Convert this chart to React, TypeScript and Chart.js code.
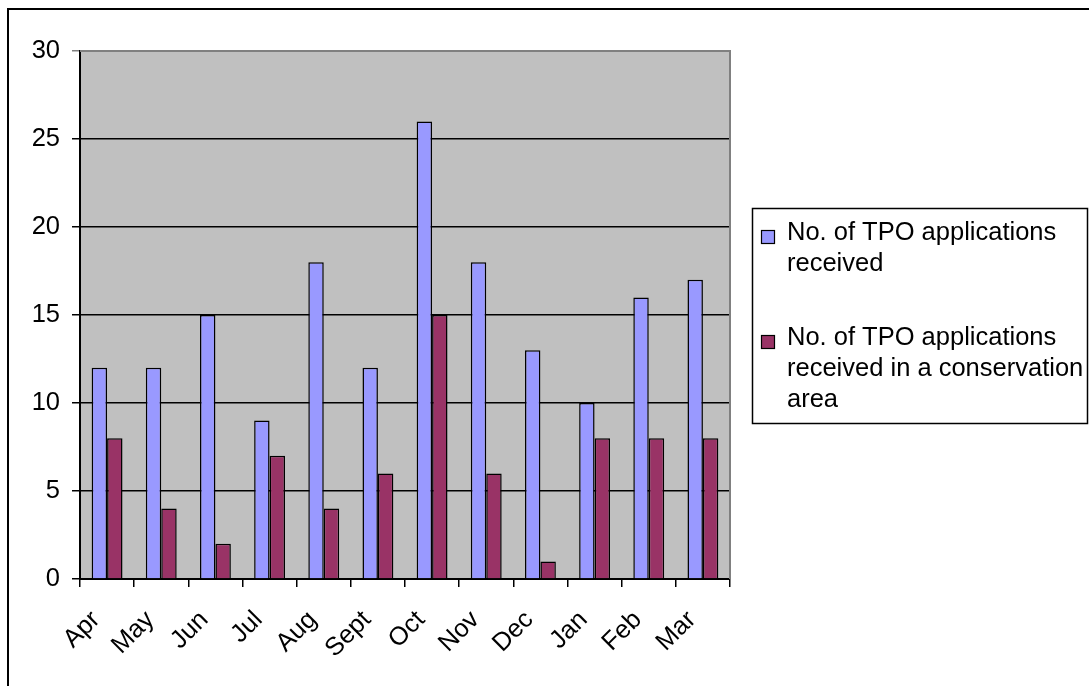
import React, { useEffect, useRef } from "react";
import { Chart, registerables } from "chart.js";

Chart.register(...registerables);

const categories = ["Apr", "May", "Jun", "Jul", "Aug", "Sept", "Oct", "Nov", "Dec", "Jan", "Feb", "Mar"];
const tpoReceived = [12, 12, 15, 9, 18, 12, 26, 18, 13, 10, 16, 17];
const tpoConservation = [8, 4, 2, 7, 4, 6, 15, 6, 1, 8, 8, 8];
const seriesLabels = [
  "No. of TPO applications received",
  "No. of TPO applications received in a conservation area",
];
const seriesColors = ["#9999FF", "#993366"];
const yMin = 0;
const yMax = 30;
const yStep = 5;

const FONT = '"Liberation Sans", Arial, Helvetica, sans-serif';

function wrapText(ctx: CanvasRenderingContext2D, text: string, maxWidth: number): string[] {
  const words = text.split(" ");
  const lines: string[] = [];
  let cur = "";
  for (const w of words) {
    const test = cur ? cur + " " + w : w;
    if (ctx.measureText(test).width > maxWidth && cur) {
      lines.push(cur);
      cur = w;
    } else {
      cur = test;
    }
  }
  if (cur) lines.push(cur);
  return lines;
}

const framePlugin = {
  id: "framePlugin",
  beforeDraw(chart: any) {
    const { ctx, chartArea } = chart;
    ctx.save();
    ctx.fillStyle = "#FFFFFF";
    ctx.fillRect(0, 0, chart.width, chart.height);
    ctx.fillStyle = "#C0C0C0";
    ctx.fillRect(chartArea.left, chartArea.top, chartArea.right - chartArea.left, chartArea.bottom - chartArea.top);
    ctx.restore();
  },
  afterDraw(chart: any) {
    const { ctx, chartArea } = chart;
    ctx.save();
    // plot area top/right border (gray)
    ctx.strokeStyle = "#808080";
    ctx.lineWidth = 2;
    ctx.beginPath();
    ctx.moveTo(chartArea.left, chartArea.top);
    ctx.lineTo(chartArea.right, chartArea.top);
    ctx.lineTo(chartArea.right, chartArea.bottom);
    ctx.stroke();
    // outer frame
    ctx.strokeStyle = "#000000";
    ctx.lineWidth = 2;
    ctx.strokeRect(8, 9, 1300, 1000);
    // legend box
    ctx.lineWidth = 1.5;
    ctx.strokeRect(752.5, 208.5, 335, 215);
    ctx.font = "25.5px " + FONT;
    ctx.textBaseline = "alphabetic";
    ctx.textAlign = "left";
    const baselines = [240, 345];
    chart.data.datasets.forEach((ds: any, i: number) => {
      const b = baselines[i];
      ctx.fillStyle = ds.backgroundColor;
      ctx.fillRect(761, b - 10, 13, 13);
      ctx.strokeStyle = "#000000";
      ctx.lineWidth = 1.2;
      ctx.strokeRect(761.5, b - 9.5, 13, 13);
      ctx.fillStyle = "#000000";
      const lines = wrapText(ctx, ds.label, 300);
      lines.forEach((ln, j) => ctx.fillText(ln, 787, b + j * 31));
    });
    ctx.restore();
  },
};

export default function App() {
  const ref = useRef<HTMLCanvasElement | null>(null);
  useEffect(() => {
    if (!ref.current) return;
    const chart = new Chart(ref.current, {
      type: "bar",
      data: {
        labels: categories,
        datasets: [
          {
            label: seriesLabels[0],
            data: tpoReceived,
            backgroundColor: seriesColors[0],
            borderColor: "#000000",
            borderWidth: 1.5,
            categoryPercentage: 0.57,
            barPercentage: 1,
          },
          {
            label: seriesLabels[1],
            data: tpoConservation,
            backgroundColor: seriesColors[1],
            borderColor: "#000000",
            borderWidth: 1.5,
            categoryPercentage: 0.57,
            barPercentage: 1,
          },
        ],
      },
      options: {
        responsive: false,
        animation: false,
        layout: { padding: { left: 0, top: 51, right: 359, bottom: 0 } },
        plugins: {
          legend: { display: false },
          tooltip: { enabled: false },
        },
        scales: {
          x: {
            grid: {
              drawOnChartArea: false,
              drawTicks: true,
              tickLength: 8,
              color: "#000000",
              lineWidth: 1.5,
            },
            border: { color: "#000000", width: 2 },
            ticks: {
              color: "#000000",
              font: { size: 25.5, family: FONT },
              minRotation: 45,
              maxRotation: 45,
              padding: 18,
              labelOffset: -11,
              autoSkip: false,
            },
            afterFit(scale: any) {
              scale.height = 107;
            },
          },
          y: {
            min: yMin,
            max: yMax,
            grid: {
              color: (c: any) => (c.tick && c.tick.value === yMax ? "#808080" : "#000000"),
              lineWidth: 1.5,
              tickLength: 8,
              drawTicks: true,
            },
            border: { color: "#000000", width: 2 },
            ticks: {
              stepSize: yStep,
              color: "#000000",
              font: { size: 25.5, family: FONT },
              padding: 12,
            },
            afterFit(scale: any) {
              scale.width = 80;
            },
          },
        },
      },
      plugins: [framePlugin],
    });
    return () => chart.destroy();
  }, []);
  return (
    <div style={{ position: "absolute", left: 0, top: 0, width: 1089, height: 686, background: "#fff" }}>
      <canvas ref={ref} width={1089} height={686} style={{ display: "block" }} />
    </div>
  );
}
